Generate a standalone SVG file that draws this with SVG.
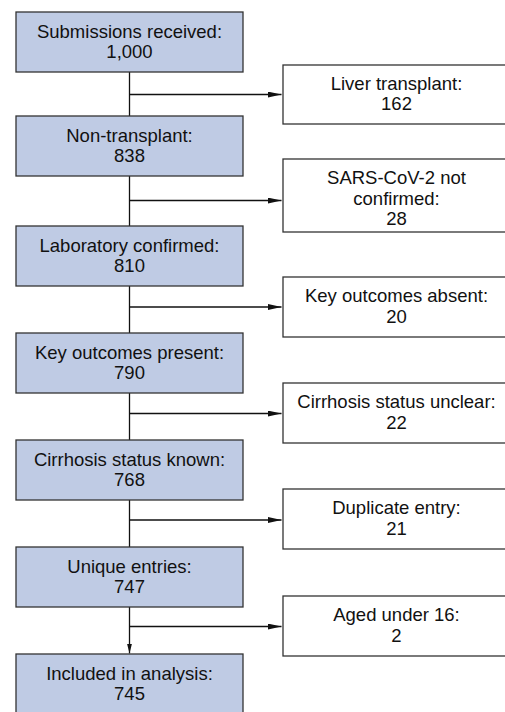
<svg xmlns="http://www.w3.org/2000/svg" width="505" height="712" viewBox="0 0 505 712">
<defs>
<style>
.main rect{fill:#BFCBE4;stroke:#333;stroke-width:1.3}
.side rect{fill:#fff;stroke:#333;stroke-width:1.3}
text{font-family:"Liberation Sans",Arial,sans-serif;font-size:18.5px;fill:#111;text-anchor:middle}
.conn line{stroke:#111;stroke-width:1.3;fill:none}
</style>
<marker id="ah" viewBox="0 0 14 6" refX="14" refY="3" markerWidth="14" markerHeight="6" markerUnits="userSpaceOnUse" orient="auto">
<path d="M0,0 L14,3 L0,6 Z" fill="#111"/>
</marker>
<marker id="av" viewBox="0 0 10 5" refX="10" refY="2.5" markerWidth="10" markerHeight="5" markerUnits="userSpaceOnUse" orient="auto">
<path d="M0,0 L10,2.5 L0,5 Z" fill="#111"/>
</marker>
</defs>
<rect width="505" height="712" fill="#fff"/>
<g class="conn">
<line x1="129.5" y1="72" x2="129.5" y2="116"/>
<line x1="129.5" y1="176" x2="129.5" y2="226"/>
<line x1="129.5" y1="286" x2="129.5" y2="333"/>
<line x1="129.5" y1="393" x2="129.5" y2="440"/>
<line x1="129.5" y1="500" x2="129.5" y2="547"/>
<line x1="129.5" y1="607" x2="129.5" y2="653.5" marker-end="url(#av)"/>
<line x1="129.5" y1="94.5" x2="281.5" y2="94.5" marker-end="url(#ah)"/>
<line x1="129.5" y1="200.5" x2="281.5" y2="200.5" marker-end="url(#ah)"/>
<line x1="129.5" y1="307" x2="281.5" y2="307" marker-end="url(#ah)"/>
<line x1="129.5" y1="413.5" x2="281.5" y2="413.5" marker-end="url(#ah)"/>
<line x1="129.5" y1="520" x2="281.5" y2="520" marker-end="url(#ah)"/>
<line x1="129.5" y1="626.5" x2="281.5" y2="626.5" marker-end="url(#ah)"/>
</g>
<g id="n1" class="main"><rect x="16" y="12" width="227" height="60"/><text x="129.5" y="37.5">Submissions received:</text><text x="129.5" y="57.5">1,000</text></g>
<g id="n2" class="main"><rect x="16" y="116" width="227" height="60"/><text x="129.5" y="141.5">Non-transplant:</text><text x="129.5" y="161.5">838</text></g>
<g id="n3" class="main"><rect x="16" y="226" width="227" height="60"/><text x="129.5" y="251.5">Laboratory confirmed:</text><text x="129.5" y="271.5">810</text></g>
<g id="n4" class="main"><rect x="16" y="333" width="227" height="60"/><text x="129.5" y="358.5">Key outcomes present:</text><text x="129.5" y="378.5">790</text></g>
<g id="n5" class="main"><rect x="16" y="440" width="227" height="60"/><text x="129.5" y="465.5">Cirrhosis status known:</text><text x="129.5" y="485.5">768</text></g>
<g id="n6" class="main"><rect x="16" y="547" width="227" height="60"/><text x="129.5" y="572.5">Unique entries:</text><text x="129.5" y="592.5">747</text></g>
<g id="n7" class="main"><rect x="16" y="654" width="227" height="62"/><text x="129.5" y="679.5">Included in analysis:</text><text x="129.5" y="699.5">745</text></g>
<g id="e1" class="side"><rect x="283" y="65" width="227" height="59"/><text x="396.5" y="89.5">Liver transplant:</text><text x="396.5" y="110">162</text></g>
<g id="e2" class="side"><rect x="283" y="159" width="227" height="73"/><text x="396.5" y="184">SARS-CoV-2 not</text><text x="396.5" y="204.5">confirmed:</text><text x="396.5" y="225">28</text></g>
<g id="e3" class="side"><rect x="283" y="277" width="227" height="60"/><text x="396.5" y="302">Key outcomes absent:</text><text x="396.5" y="322.5">20</text></g>
<g id="e4" class="side"><rect x="283" y="383" width="227" height="60"/><text x="396.5" y="408">Cirrhosis status unclear:</text><text x="396.5" y="428.5">22</text></g>
<g id="e5" class="side"><rect x="283" y="489" width="227" height="60"/><text x="396.5" y="514">Duplicate entry:</text><text x="396.5" y="534.5">21</text></g>
<g id="e6" class="side"><rect x="283" y="596" width="227" height="60"/><text x="396.5" y="621">Aged under 16:</text><text x="396.5" y="641.5">2</text></g>
</svg>
